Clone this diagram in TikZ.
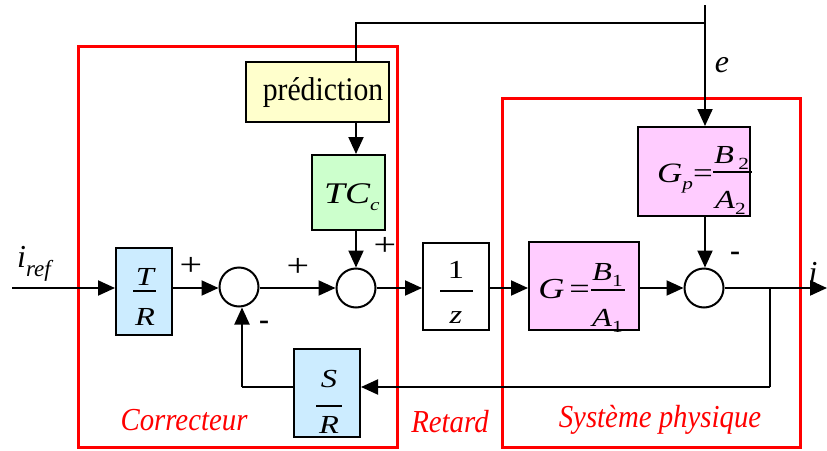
\documentclass[tikz,border=0pt]{standalone}
\usepackage{fontspec}
\setmainfont{Liberation Serif}
\newfontfamily\cfont[FakeStretch=0.9]{Liberation Serif}
\newfontfamily\mfont[FakeStretch=1.25]{Liberation Serif}
\usetikzlibrary{arrows.meta}
\definecolor{cblue}{RGB}{204,236,255}
\definecolor{cyel}{RGB}{255,255,204}
\definecolor{cgreen}{RGB}{204,255,204}
\definecolor{cpink}{RGB}{255,204,255}
\newcommand\fsz[1]{\fontsize{#1}{#1}\selectfont}
\newcommand\sub[1]{\raisebox{-0.25em}{\fsz{17}#1}}
\begin{document}
\begin{tikzpicture}[x=1pt,y=-1pt,
  blk/.style={draw=black, line width=2pt, inner sep=0pt},
  sumc/.style={circle, draw=black, line width=2pt, minimum size=39pt, inner sep=0pt, fill=white},
  arr/.style={line width=2pt, -{Triangle[length=17pt,width=15pt]}},
  ln/.style={line width=2pt},
  bar/.style={line width=1.2pt},
  redbox/.style={draw=red, line width=3pt},
  redlbl/.style={text=red, font=\cfont\fsz{32}\itshape, inner sep=0pt, anchor=base},
  lt/.style={font=\mfont\fsz{26}\itshape, inner sep=0pt, anchor=base},
  sgn/.style={font=\mfont\fsz{32}, inner sep=0pt},
  msgn/.style={font=\fsz{30}\bfseries, inner sep=0pt}]
\useasboundingbox (0,0) rectangle (827,450);
% red frames
\draw[redbox] (78,46) rectangle (397,447);
\draw[redbox] (502,98) rectangle (800,447);
\node[redlbl] (lc) at (184,430) {Correcteur};
\node[redlbl] (lr) at (450,432) {Retard};
\node[redlbl] (ls) at (660,427) {Système physique};
% blocks
\node[blk, fill=cblue, minimum width=56pt, minimum height=87pt] (TR) at (144,291.5) {};
\node[sumc] (s1) at (239,287) {};
\node[sumc] (s2) at (356,288) {};
\node[blk, fill=cgreen, minimum width=73pt, minimum height=75pt] (TC) at (348.5,192.5) {};
\node[blk, fill=cyel, minimum width=143pt, minimum height=60pt] (P) at (317.5,92) {};
\node[blk, fill=white, minimum width=66pt, minimum height=87pt] (Z) at (456,286.5) {};
\node[blk, fill=cpink, minimum width=110pt, minimum height=88pt] (G) at (584,286) {};
\node[sumc] (s3) at (704,288) {};
\node[blk, fill=cpink, minimum width=112pt, minimum height=89pt] (Gp) at (694,171.5) {};
\node[blk, fill=cblue, minimum width=66pt, minimum height=88pt] (SR) at (327,393) {};
% block texts
\node[lt] (tT) at (145,285) {T};
\node[lt] (tR) at (145,325) {R};
\draw[bar] (133,291) -- (156,291);
\node[lt, font=\fsz{33}\cfont] (tP) at (323,100) {prédiction};
\node[lt, font=\mfont\fsz{30}\itshape, anchor=base west] (tTC) at (324,203) {TC\sub{c}};
\node[lt, font=\mfont\fsz{26}] (t1) at (456,278) {1};
\node[lt] (tz) at (456,323) {z};
\draw[bar] (440,291) -- (473,291);
\node[lt, font=\mfont\fsz{29}\itshape, anchor=base east] (tG) at (590,298) {G\,\upshape=};
\node[lt, anchor=base west] (tB1) at (592,280) {B\sub{\upshape 1}};
\node[lt, anchor=base west] (tA1) at (592,326) {A\sub{\upshape 1}};
\draw[bar] (591,290) -- (625,290);
\node[lt, font=\mfont\fsz{28}\itshape, anchor=base east] (tGp) at (713,182) {G\sub{p}\upshape=};
\node[lt, anchor=base west] (tB2) at (714,163) {B\,\sub{\upshape 2}};
\node[lt, anchor=base west] (tA2) at (715,208) {A\sub{\upshape 2}};
\draw[bar] (713,172) -- (752,172);
\node[lt] (tS) at (329,387) {S};
\node[lt] (tR2) at (329,433) {R};
\draw[bar] (316,406) -- (342,406);
% labels
\node[lt, font=\fsz{32}\itshape, anchor=base west] (iref) at (17,267) {i\raisebox{-0.3em}{\fsz{23}ref}};
\node[lt, font=\fsz{32}\itshape] (iout) at (813,283) {i};
\node[lt, font=\fsz{32}\itshape] (le) at (722,72) {e};
\node[sgn] (p1) at (191,266) {+};
\node[sgn] (p2) at (298,267) {+};
\node[sgn] (p3) at (385,246) {+};
\node[msgn] (m1) at (264,325) {-};
\node[msgn] (m2) at (735,256) {-};
% coordinates
\coordinate (in) at (12,288);
\coordinate (out) at (827,288);
\coordinate (br) at (770,288);
\coordinate (fbR) at (770,387);
\coordinate (fbL) at (242,387);
\coordinate (etop) at (705,5);
\coordinate (ej) at (705,23);
% connectors
\draw[arr] (in) -- (in -| TR.west);
\draw[arr] (TR.east |- in) -- (s1.west |- in);
\draw[arr] (s1.east |- in) -- (s2.west);
\draw[arr] (s2.east) -- (Z.west |- s2);
\draw[arr] (Z.east |- s2) -- (G.west |- s2);
\draw[arr] (G.east |- s3) -- (s3.west);
\draw[arr] (s3.east) -- (out);
\draw[ln] (br) -- (fbR);
\draw[arr] (fbR) -- (fbR -| SR.east);
\draw[ln] (SR.west |- fbR) -- (fbL);
\draw[arr] (fbL) -- (fbL |- s1.south);
\draw[ln] (P.north -| s2) |- (ej);
\draw[arr] (etop) -- (etop |- Gp.north);
\draw[arr] (P.south -| s2) -- (TC.north -| s2);
\draw[arr] (TC.south -| s2) -- (s2.north);
\draw[arr] (Gp.south -| etop) -- (s3.north -| etop);
\end{tikzpicture}
\end{document}
